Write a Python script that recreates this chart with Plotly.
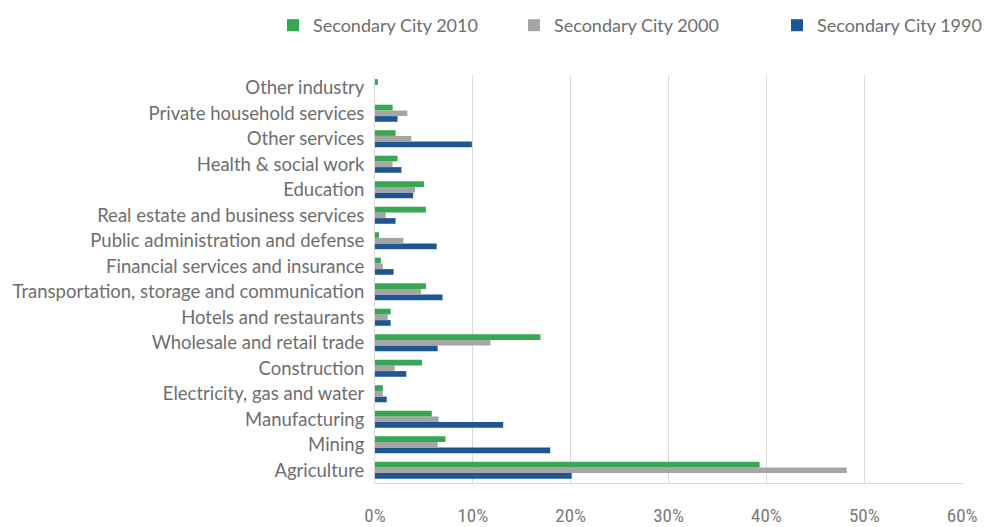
import plotly.graph_objects as go

# Employment share by industry (bottom-up category order)
industries = [
    "Agriculture",
    "Mining",
    "Manufacturing",
    "Electricity, gas and water",
    "Construction",
    "Wholesale and retail trade",
    "Hotels and restaurants",
    "Transportation, storage and communication",
    "Financial services and insurance",
    "Public administration and defense",
    "Real estate and business services",
    "Education",
    "Health & social work",
    "Other services",
    "Private household services",
    "Other industry",
]

city_1990 = [0.201, 0.179, 0.131, 0.012, 0.032, 0.064, 0.016, 0.069, 0.019, 0.063, 0.021, 0.039, 0.027, 0.099, 0.023, 0.0]
city_2000 = [0.482, 0.064, 0.065, 0.008, 0.020, 0.118, 0.013, 0.047, 0.008, 0.029, 0.011, 0.041, 0.018, 0.037, 0.033, 0.0]
city_2010 = [0.393, 0.072, 0.058, 0.008, 0.048, 0.169, 0.016, 0.052, 0.006, 0.004, 0.052, 0.050, 0.023, 0.021, 0.018, 0.003]

# (name, values, colour, legend id, legend left edge in px)
series = [
    ("Secondary City 1990", city_1990, "#1F5591", "legend3", 777),
    ("Secondary City 2000", city_2000, "#A5A5A5", "legend2", 514),
    ("Secondary City 2010", city_2010, "#36A852", "legend", 273),
]

x_ticks = [0, 0.1, 0.2, 0.3, 0.4, 0.5, 0.6]

W, H = 987, 527
LABEL_FONT = "Lato, 'Open Sans', sans-serif"
TICK_FONT = "'Liberation Sans Narrow', 'Roboto Condensed', Lato, sans-serif"

fig = go.Figure()
legends = {}
for name, vals, color, leg, left in series:
    fig.add_trace(go.Bar(
        y=industries, x=vals, name=name, orientation="h",
        marker=dict(color=color, line=dict(width=0)),
        legend=leg,
    ))
    legends[leg] = dict(
        xref="container", yref="container",
        x=left / W, y=1 - 7 / H, xanchor="left", yanchor="top",
        bgcolor="rgba(0,0,0,0)",
        font=dict(family=LABEL_FONT, size=18, color="#6E6E6E"),
    )

fig.update_layout(
    width=W, height=H,
    margin=dict(l=375, r=24, t=75, b=44, autoexpand=False),
    paper_bgcolor="white", plot_bgcolor="white",
    barmode="group", bargap=0.33, bargroupgap=0,
    font=dict(family=LABEL_FONT, size=18, color="#6E6E6E"),
    showlegend=True,
    xaxis=dict(
        range=[0, 0.6008], tickvals=x_ticks, tickformat=".0%",
        showgrid=True, gridcolor="#D9D9D9", gridwidth=1,
        zeroline=False, showline=True, linecolor="#D9D9D9",
        ticks="", ticklabelstandoff=15,
        tickfont=dict(family=TICK_FONT, size=19, color="#7A7A7A"),
        fixedrange=True,
    ),
    yaxis=dict(
        showgrid=False, zeroline=False, showline=True, linecolor="#D9D9D9",
        ticks="", ticklabelstandoff=6,
        tickfont=dict(family=LABEL_FONT, size=18.5, color="#6E6E6E"),
        fixedrange=True,
    ),
    **legends,
)

fig.write_html("out.html")
